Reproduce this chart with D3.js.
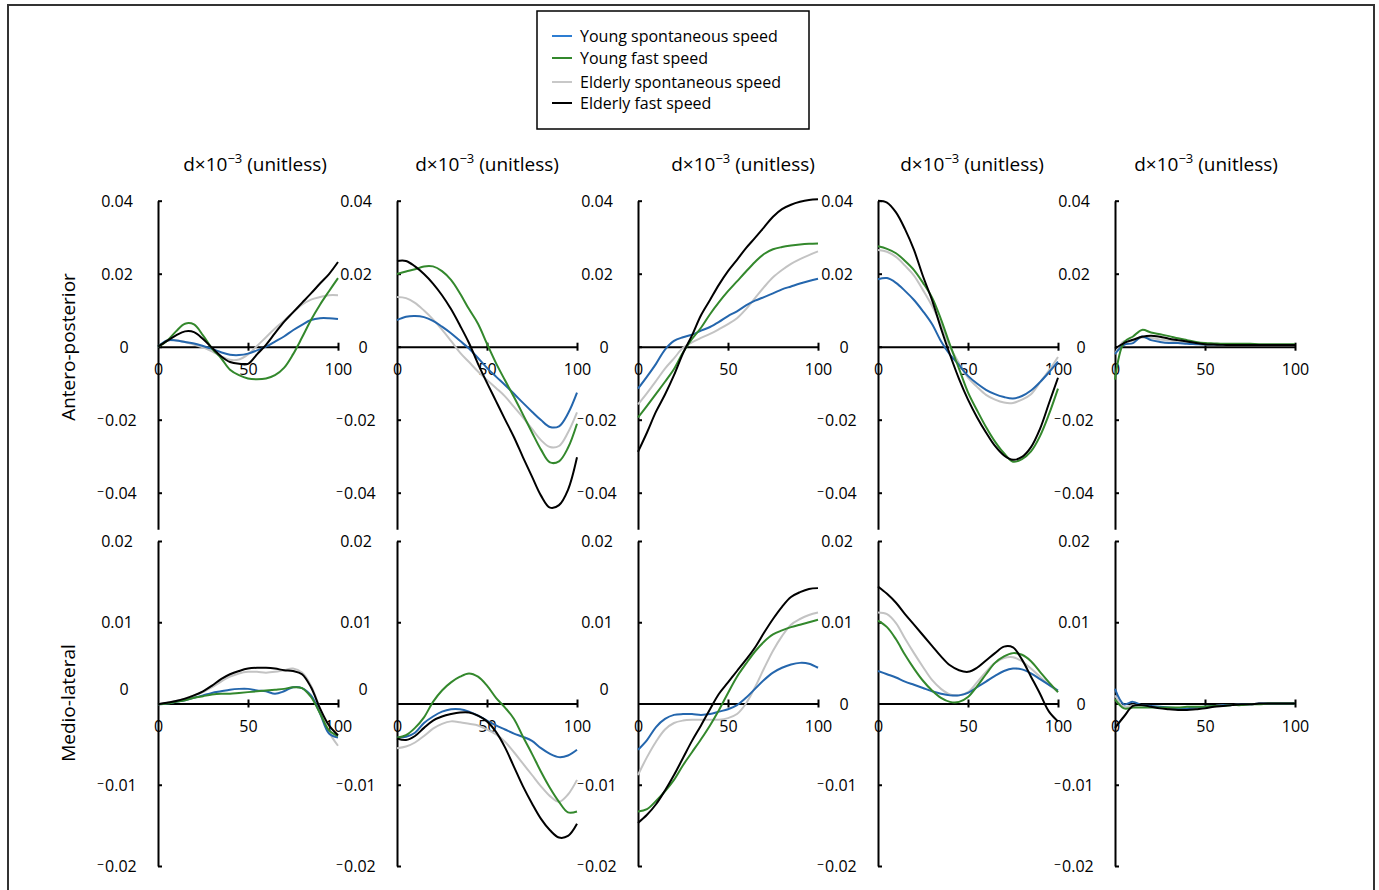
<!DOCTYPE html>
<html>
<head>
<meta charset="utf-8">
<script src="https://cdn.jsdelivr.net/npm/d3@7"></script>
<style>
  body { margin: 0; background: #fff; }
  svg { display: block; font-family: "Open Sans", sans-serif; }
</style>
</head>
<body>
<svg id="chart" width="1379" height="890"></svg>
<script>
// gait cycle (%) sample points
var cyclePct = [0, 5, 10, 15, 20, 25, 30, 35, 40, 45, 50, 55, 60, 65, 70, 75, 80, 85, 90, 95, 100];

var seriesNames = ['Young spontaneous speed', 'Young fast speed', 'Elderly spontaneous speed', 'Elderly fast speed'];
var rowNames = ['Antero-posterior', 'Medio-lateral'];
var apTicks = [0.04, 0.02, 0, -0.02, -0.04];
var mlTicks = [0.02, 0.01, 0, -0.01, -0.02];
var xTicks = [0, 50, 100];

// antero-posterior, one array per column
var apYoungSpont = [
  [0, 0.0017, 0.0017, 0.0013, 0.0009, 0.0002, -0.0006, -0.0015, -0.0022, -0.0023, -0.0019, -0.001, 0, 0.0014, 0.0028, 0.0045, 0.006, 0.0073, 0.0078, 0.0078, 0.0076],
  [0.0073, 0.0082, 0.0084, 0.0081, 0.0071, 0.0055, 0.0037, 0.0016, -0.0005, -0.0031, -0.0058, -0.0082, -0.0105, -0.0129, -0.0154, -0.0178, -0.0201, -0.022, -0.0218, -0.0183, -0.0126],
  [-0.0115, -0.0082, -0.0047, -0.0008, 0.0016, 0.0026, 0.0033, 0.0044, 0.0054, 0.0068, 0.0084, 0.0097, 0.0113, 0.0126, 0.0136, 0.0146, 0.0157, 0.0165, 0.0173, 0.018, 0.0186],
  [0.0185, 0.0188, 0.0175, 0.0153, 0.0128, 0.0097, 0.0062, 0.0015, -0.0022, -0.005, -0.008, -0.0101, -0.0118, -0.013, -0.0138, -0.0142, -0.0135, -0.012, -0.0097, -0.007, -0.0041],
  [-0.002, 0.0005, 0.001, 0.0028, 0.0018, 0.0013, 0.001, 0.001, 0.0008, 0.0007, 0.0006, 0.0006, 0.0006, 0.0006, 0.0005, 0.0005, 0.0005, 0.0005, 0.0005, 0.0005, 0.0005]
];
var apYoungFast = [
  [0, 0.0016, 0.0042, 0.0063, 0.0061, 0.0031, -0.0005, -0.0031, -0.0063, -0.0078, -0.0087, -0.0089, -0.0087, -0.0078, -0.0058, -0.0021, 0.0025, 0.0073, 0.0115, 0.0152, 0.0188],
  [0.0199, 0.0206, 0.0212, 0.022, 0.022, 0.0207, 0.0183, 0.0146, 0.0103, 0.0063, 0.0008, -0.0045, -0.0092, -0.0138, -0.0186, -0.0235, -0.0282, -0.0317, -0.0314, -0.0277, -0.0211],
  [-0.0194, -0.0162, -0.0129, -0.0096, -0.0061, -0.0016, 0.0021, 0.0052, 0.0089, 0.0122, 0.0152, 0.0179, 0.0206, 0.0232, 0.0254, 0.0267, 0.0273, 0.0277, 0.028, 0.0282, 0.0283],
  [0.0275, 0.0268, 0.0256, 0.0235, 0.021, 0.0175, 0.0135, 0.0075, 0.0005, -0.006, -0.0125, -0.0174, -0.022, -0.026, -0.0292, -0.0315, -0.0308, -0.0287, -0.0245, -0.0185, -0.0115],
  [-0.009, 0.0012, 0.0028, 0.0046, 0.0039, 0.0034, 0.0029, 0.0023, 0.0018, 0.0013, 0.001, 0.0009, 0.0008, 0.0008, 0.0008, 0.0008, 0.0007, 0.0007, 0.0007, 0.0007, 0.0007]
];
var apElderSpont = [
  [0, 0.0016, 0.0018, 0.0013, 0.0006, -0.0002, -0.0013, -0.0026, -0.0036, -0.0035, -0.0021, 0.0002, 0.0026, 0.005, 0.0071, 0.0094, 0.0115, 0.0129, 0.0136, 0.0141, 0.0141],
  [0.0136, 0.0133, 0.012, 0.0099, 0.0075, 0.0047, 0.0016, -0.0016, -0.0042, -0.0068, -0.0091, -0.0113, -0.0136, -0.0165, -0.0194, -0.0225, -0.0256, -0.0275, -0.0272, -0.0235, -0.018],
  [-0.0158, -0.0127, -0.0094, -0.006, -0.0032, -0.0003, 0.0012, 0.0024, 0.0035, 0.0048, 0.0062, 0.0078, 0.0103, 0.0133, 0.0163, 0.019, 0.021, 0.0227, 0.024, 0.0251, 0.0261],
  [0.0265, 0.026, 0.0246, 0.0222, 0.0195, 0.0155, 0.0112, 0.006, 0, -0.0045, -0.0085, -0.011, -0.0132, -0.0145, -0.0153, -0.0154, -0.0145, -0.013, -0.0098, -0.0065, -0.0028],
  [-0.002, 0.0015, 0.0016, 0.0025, 0.0024, 0.002, 0.0017, 0.0014, 0.0011, 0.0008, 0.0006, 0.0005, 0.0005, 0.0005, 0.0005, 0.0005, 0.0005, 0.0005, 0.0005, 0.0005, 0.0005]
];
var apElderFast = [
  [0, 0.0016, 0.0031, 0.0042, 0.004, 0.0021, -0.0003, -0.0026, -0.0042, -0.0047, -0.0047, -0.0021, 0.0005, 0.0037, 0.0068, 0.0094, 0.012, 0.0146, 0.0173, 0.0199, 0.0232],
  [0.0235, 0.0235, 0.022, 0.0199, 0.0173, 0.0141, 0.0103, 0.0058, 0.001, -0.0047, -0.0099, -0.0149, -0.0199, -0.0248, -0.0303, -0.0356, -0.0408, -0.0441, -0.0434, -0.0392, -0.0303],
  [-0.0288, -0.0235, -0.0178, -0.0131, -0.0078, -0.0018, 0.0031, 0.0086, 0.0128, 0.017, 0.0207, 0.0238, 0.027, 0.0298, 0.0327, 0.0356, 0.0377, 0.0389, 0.0397, 0.0402, 0.0404],
  [0.04, 0.0395, 0.0368, 0.0322, 0.0265, 0.0193, 0.0128, 0.005, -0.0022, -0.0088, -0.0145, -0.0193, -0.0235, -0.0272, -0.0298, -0.031, -0.0302, -0.0275, -0.0225, -0.0155, -0.0085],
  [-0.0005, 0.001, 0.0019, 0.0027, 0.003, 0.0027, 0.0022, 0.0018, 0.0014, 0.001, 0.0007, 0.0006, 0.0005, 0.0005, 0.0005, 0.0005, 0.0005, 0.0005, 0.0005, 0.0005, 0.0005]
];

// medio-lateral
var mlYoungSpont = [
  [-0.0001, 0, 0.0002, 0.0004, 0.0007, 0.001, 0.0013, 0.0015, 0.0017, 0.0018, 0.0018, 0.0016, 0.0015, 0.0012, 0.0015, 0.002, 0.0019, 0.001, -0.0012, -0.0037, -0.0042],
  [-0.0042, -0.0041, -0.0036, -0.0024, -0.0016, -0.001, -0.0007, -0.0007, -0.001, -0.0015, -0.0021, -0.0027, -0.0032, -0.0037, -0.0041, -0.0046, -0.0055, -0.0062, -0.0066, -0.0064, -0.0057],
  [-0.0057, -0.0045, -0.0029, -0.0019, -0.0014, -0.0013, -0.0013, -0.0014, -0.0013, -0.001, -0.0007, -0.0002, 0.0007, 0.0018, 0.0029, 0.0038, 0.0044, 0.0048, 0.005, 0.0049, 0.0044],
  [0.004, 0.0036, 0.0032, 0.0027, 0.0023, 0.0019, 0.0015, 0.0012, 0.001, 0.001, 0.0013, 0.002, 0.0027, 0.0034, 0.004, 0.0043, 0.0042, 0.0037, 0.003, 0.0023, 0.0016],
  [0.0018, -0.0001, 0.0002, -0.0002, -0.0003, -0.0004, -0.0005, -0.0006, -0.0006, -0.0005, -0.0004, -0.0003, -0.0002, -0.0002, -0.0001, -0.0001, 0, 0, 0, 0, 0]
];
var mlYoungFast = [
  [-0.0001, 0, 0.0002, 0.0004, 0.0007, 0.0009, 0.0011, 0.0012, 0.0012, 0.0013, 0.0014, 0.0015, 0.0016, 0.0017, 0.0018, 0.002, 0.0019, 0.0008, -0.0012, -0.0033, -0.004],
  [-0.0042, -0.0039, -0.003, -0.0017, 0.0002, 0.0016, 0.0026, 0.0033, 0.0037, 0.0033, 0.0022, 0.0007, -0.0005, -0.0019, -0.0041, -0.0062, -0.0084, -0.0104, -0.0121, -0.0134, -0.0133],
  [-0.0133, -0.013, -0.012, -0.0108, -0.0094, -0.0076, -0.006, -0.0044, -0.0027, -0.0008, 0.0013, 0.0033, 0.0049, 0.0064, 0.0076, 0.0085, 0.009, 0.0094, 0.0097, 0.01, 0.0103],
  [0.0102, 0.0094, 0.0079, 0.006, 0.0043, 0.0028, 0.0016, 0.0007, 0.0002, 0.0002, 0.0008, 0.0021, 0.0036, 0.005, 0.0058, 0.0062, 0.006, 0.0052, 0.0039, 0.0026, 0.0014],
  [0.0005, -0.0006, -0.0005, -0.0005, -0.0005, -0.0005, -0.0005, -0.0005, -0.0004, -0.0004, -0.0004, -0.0003, -0.0003, -0.0002, -0.0002, -0.0001, -0.0001, 0, 0, 0, 0]
];
var mlElderSpont = [
  [-0.0001, 0.0001, 0.0003, 0.0006, 0.001, 0.0014, 0.002, 0.0027, 0.0033, 0.0037, 0.0039, 0.0039, 0.0038, 0.0039, 0.0041, 0.0043, 0.0038, 0.0022, -0.0006, -0.0035, -0.0052],
  [-0.0055, -0.0053, -0.0048, -0.004, -0.0031, -0.0025, -0.0022, -0.0023, -0.0025, -0.0027, -0.0032, -0.0038, -0.0047, -0.006, -0.0074, -0.0088, -0.0102, -0.0114, -0.0121, -0.0112, -0.0094],
  [-0.0088, -0.0066, -0.0047, -0.0032, -0.0024, -0.0021, -0.002, -0.002, -0.002, -0.002, -0.0018, -0.0013, 0, 0.002, 0.0043, 0.0065, 0.0083, 0.0097, 0.0104, 0.0109, 0.0112],
  [0.0112, 0.011, 0.0099, 0.008, 0.0062, 0.0045, 0.0029, 0.0018, 0.0011, 0.001, 0.0014, 0.0026, 0.0039, 0.005, 0.0056, 0.0057, 0.0052, 0.0043, 0.0033, 0.0023, 0.0014],
  [0.001, -0.0004, -0.0002, -0.0003, -0.0004, -0.0005, -0.0006, -0.0006, -0.0006, -0.0005, -0.0004, -0.0003, -0.0002, -0.0002, -0.0001, -0.0001, 0, 0, 0, 0, 0]
];
var mlElderFast = [
  [-0.0001, 0.0001, 0.0003, 0.0006, 0.001, 0.0015, 0.0022, 0.003, 0.0036, 0.004, 0.0043, 0.0044, 0.0044, 0.0043, 0.0041, 0.004, 0.0036, 0.002, -0.0006, -0.0027, -0.0039],
  [-0.0043, -0.0045, -0.004, -0.003, -0.0021, -0.0016, -0.0013, -0.0011, -0.0011, -0.0015, -0.0022, -0.0035, -0.0054, -0.0078, -0.0102, -0.0123, -0.0142, -0.0156, -0.0165, -0.0163, -0.0148],
  [-0.0147, -0.0137, -0.0124, -0.0107, -0.0088, -0.0067, -0.0046, -0.0027, -0.0007, 0.0012, 0.0026, 0.004, 0.0054, 0.0069, 0.0087, 0.0104, 0.0119, 0.0131, 0.0137, 0.0141, 0.0142],
  [0.0144, 0.0135, 0.0124, 0.011, 0.0097, 0.0084, 0.0071, 0.0058, 0.0047, 0.0041, 0.0039, 0.0044, 0.0053, 0.0062, 0.007, 0.0069, 0.0054, 0.0033, 0.0012, -0.001, -0.0022],
  [-0.003, -0.0016, -0.0003, -0.0002, -0.0004, -0.0006, -0.0007, -0.0008, -0.0008, -0.0007, -0.0006, -0.0004, -0.0003, -0.0002, -0.0001, -0.0001, 0, 0, 0, 0, 0]
];

var colors = ['#2466ad', '#33882c', '#c3c3c3', '#000000'];
var legendColors = ['#2d7dd2', '#33882c', '#c8c8c8', '#000000'];

// layout
var axisX = [158, 397, 638, 878, 1115];
var titleOffset = [97, 90, 105, 94, 91];
var plotW = 180;

var svg = d3.select('#chart');

// outer frame
svg.append('rect')
    .attr('x', 8).attr('y', 5)
    .attr('width', 1366).attr('height', 900)
    .attr('fill', 'none')
    .attr('stroke', '#333')
    .attr('stroke-width', 2);

var rows = [
    {
        name: rowNames[0],
        scale: d3.scaleLinear().domain([-0.05, 0.04]).range([529.2, 200.7]),
        ticks: apTicks,
        data: [apYoungSpont, apYoungFast, apElderSpont, apElderFast],
        labelY: 347,
        zeroShift: [0, 0, 0, 0, 0]
    },
    {
        name: rowNames[1],
        scale: d3.scaleLinear().domain([-0.02, 0.02]).range([866, 541]),
        ticks: mlTicks,
        data: [mlYoungSpont, mlYoungFast, mlElderSpont, mlElderFast],
        labelY: 703,
        zeroShift: [-15, -15, -15, 0, 0]
    }
];

var drawOrder = [2, 0, 1, 3];

// Excel-style negative label: small raised minus, a gap, then the digits
var writeTick = function(sel) {
    sel.each(function(d) {
        var t = d3.select(this).text('').attr('dy', null);
        if (d < 0) {
            t.append('tspan').attr('dy', '2.5').style('font-size', '12px').text('\u2212');
            t.append('tspan').attr('dx', '1').attr('dy', '3').text(String(Math.abs(d)));
        } else {
            t.append('tspan').attr('dy', '5.5').text(String(d));
        }
    });
};

rows.forEach(function(row) {
    var y = row.scale;

    svg.append('text')
        .attr('transform', 'translate(68,' + row.labelY + ') rotate(-90)')
        .attr('text-anchor', 'middle')
        .attr('dominant-baseline', 'central')
        .style('font-size', '19px')
        .text(row.name);

    axisX.forEach(function(ax, col) {
        var x = d3.scaleLinear().domain([0, 100]).range([ax, ax + plotW]);
        var g = svg.append('g');

        var yAxis = d3.axisLeft(y)
            .tickValues(row.ticks)
            .tickSize(-4)
            .tickSizeOuter(0);

        var ya = g.append('g')
            .attr('transform', 'translate(' + ax + ',0)')
            .call(yAxis);
        ya.select('.domain').attr('stroke', '#000').attr('stroke-width', 2);
        ya.selectAll('.tick line').attr('stroke-width', 2);
        ya.selectAll('.tick text')
            .attr('x', function(d) { return d === 0 ? -34 : -41; })
            .attr('y', function(d) { return d === 0 ? row.zeroShift[col] : 0; })
            .attr('text-anchor', 'middle')
            .style('font-size', '16px')
            .style('font-family', '"Open Sans", sans-serif')
            .attr('fill', '#000')
            .call(writeTick);

        var xAxis = d3.axisBottom(x)
            .tickValues(xTicks)
            .tickSize(0)
            .tickSizeOuter(0);

        var xa = g.append('g')
            .attr('transform', 'translate(0,' + y(0) + ')')
            .call(xAxis);
        xa.select('.domain').attr('stroke', '#000').attr('stroke-width', 2);
        xa.selectAll('.tick line')
            .attr('y1', -4).attr('y2', 4)
            .attr('stroke-width', 2)
            .attr('stroke', function(d) { return d === 0 ? 'none' : '#000'; });
        xa.selectAll('.tick text')
            .attr('y', 23)
            .attr('dy', '0.35em')
            .style('font-size', '16px')
            .style('font-family', '"Open Sans", sans-serif')
            .attr('fill', '#000');

        var line = d3.line()
            .x(function(d, i) { return x(cyclePct[i]); })
            .y(function(d) { return y(d); })
            .curve(d3.curveCatmullRom.alpha(0.5));

        drawOrder.forEach(function(s) {
            g.append('path')
                .datum(row.data[s][col])
                .attr('d', line)
                .attr('fill', 'none')
                .attr('stroke', colors[s])
                .attr('stroke-width', 2);
        });

        if (row === rows[0]) {
            var t = svg.append('text')
                .attr('x', ax + titleOffset[col])
                .attr('y', 164)
                .attr('text-anchor', 'middle')
                .attr('dominant-baseline', 'central')
                .style('font-size', '19px');
            t.append('tspan').text('d\u00D710');
            t.append('tspan').attr('dy', -6).style('font-size', '13px').text('\u22123');
            t.append('tspan').attr('dy', 6).text(' (unitless)');
        }
    });
});

// legend
var legend = svg.append('g');
legend.append('rect')
    .attr('x', 537).attr('y', 11)
    .attr('width', 272).attr('height', 118)
    .attr('fill', '#fff')
    .attr('stroke', '#000')
    .attr('stroke-width', 1.5);

var legendRows = [36, 58, 82, 103];
seriesNames.forEach(function(name, i) {
    legend.append('line')
        .attr('x1', 552).attr('x2', 572)
        .attr('y1', legendRows[i]).attr('y2', legendRows[i])
        .attr('stroke', legendColors[i])
        .attr('stroke-width', 2);
    legend.append('text')
        .attr('x', 580).attr('y', legendRows[i])
        .attr('dominant-baseline', 'central')
        .style('font-size', '16px')
        .text(name);
});
</script>
</body>
</html>
